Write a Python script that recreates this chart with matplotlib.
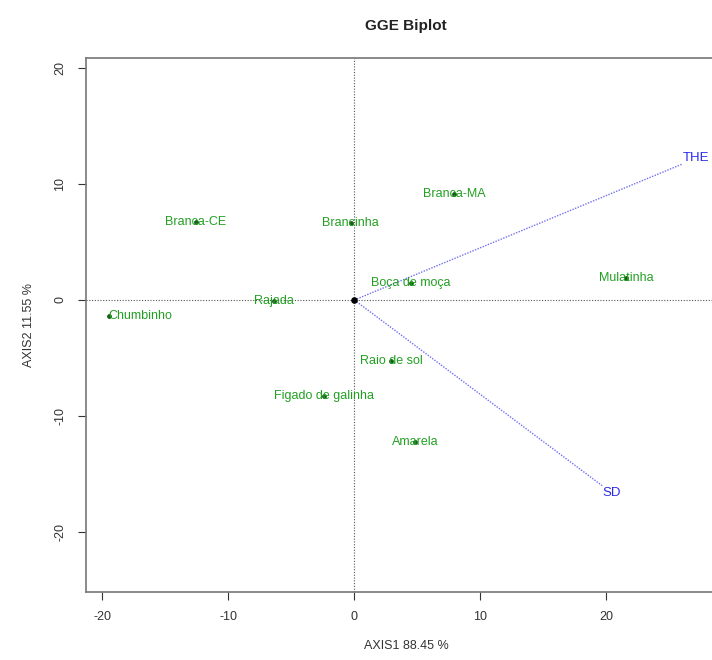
import matplotlib

matplotlib.use("Agg")
import matplotlib.pyplot as plt

plt.rcParams["font.family"] = ["Liberation Sans", "DejaVu Sans"]
plt.rcParams["axes.unicode_minus"] = False

# genotype scores (AXIS1, AXIS2)
genotypes = [
    "Branca-CE", "Brancinha", "Branca-MA", "Boça de moça", "Mulatinha",
    "Chumbinho", "Rajada", "Raio de sol", "Figado de galinha", "Amarela",
]
geno_x = [-12.6, -0.3, 7.9, 4.5, 21.6, -19.5, -6.4, 2.9, -2.4, 4.8]
geno_y = [6.7, 6.6, 9.1, 1.5, 1.9, -1.4, -0.1, -5.3, -8.3, -12.2]
geno_ha = ["center", "center", "center", "center", "center",
           "left", "center", "center", "center", "center"]

# environment vectors
envs = ["THE", "SD"]
env_x = [27.1, 20.4]
env_y = [12.2, -16.6]

x_ticks = [-20, -10, 0, 10, 20]
y_ticks = [-20, -10, 0, 10, 20]

W, H = 712, 660
fig = plt.figure(figsize=(W / 100, H / 100), dpi=100)
ax = fig.add_axes([86 / W, (H - 592) / H, (726 - 86) / W, (592 - 58) / H])
ax.set_xlim(-21.3, 29.5)
ax.set_ylim(-25.17, 20.86)

ax.axhline(0, color="#555555", lw=0.8, ls=(0, (1, 1.5)), zorder=1)
ax.axvline(0, color="#555555", lw=0.8, ls=(0, (1, 1.5)), zorder=1)

for name, ex, ey in zip(envs, env_x, env_y):
    ax.plot([0, ex], [0, ey], color="#7070ee", lw=1.0, ls=(0, (1, 1)), zorder=2)
    ax.text(ex, ey, name, color="#2a2aee", fontsize=9.5, ha="center", va="center",
            bbox=dict(facecolor="white", edgecolor="none", pad=0.5), zorder=3)

ax.scatter(geno_x, geno_y, s=6, color="#135f13", zorder=3)
for name, gx, gy, ha in zip(genotypes, geno_x, geno_y, geno_ha):
    ax.text(gx, gy, name, color="#22a022", fontsize=9, ha=ha, va="center", zorder=4)
ax.scatter([0], [0], s=14, color="black", zorder=5)

ax.set_xticks(x_ticks)
ax.set_yticks(y_ticks)
ax.set_yticklabels([str(v) for v in y_ticks], rotation=90, va="center")
ax.tick_params(labelsize=9, colors="#333333", length=6, width=0.8, pad=8)
for s in ax.spines.values():
    s.set_color("#777777")
    s.set_linewidth(1.2)

ax.set_xlabel("AXIS1 88.45 %", fontsize=9, color="#333333", labelpad=12)
ax.set_ylabel("AXIS2 11.55 %", fontsize=9, color="#333333", labelpad=14)
ax.set_title("GGE Biplot", fontsize=11, fontweight="bold", color="#222222", pad=20)

fig.savefig("out.png", dpi=100)
